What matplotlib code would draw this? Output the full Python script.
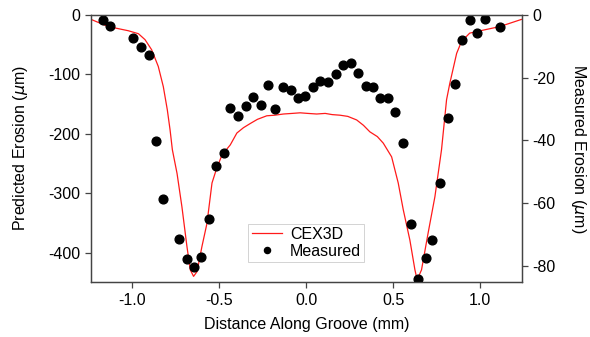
import numpy as np
import matplotlib
matplotlib.use('Agg')
import matplotlib.pyplot as plt

plt.rcParams['font.family'] = ['Liberation Sans', 'DejaVu Sans']
plt.rcParams['axes.unicode_minus'] = False

# CEX3D prediction (left axis, um)
model_x = [-1.236, -1.137, -1.022, -0.964, -0.926, -0.888, -0.850, -0.821,
           -0.798, -0.782, -0.769, -0.742, -0.714, -0.685, -0.666, -0.647,
           -0.627, -0.599, -0.570, -0.541, -0.517, -0.484, -0.436, -0.398,
           -0.360, -0.321, -0.280, -0.226, -0.180, -0.130, -0.080, -0.034,
           0.010, 0.061, 0.110, 0.150, 0.195, 0.240, 0.291, 0.330, 0.367,
           0.410, 0.444, 0.492, 0.530, 0.559, 0.597, 0.626, 0.639, 0.664,
           0.702, 0.741, 0.779, 0.808, 0.827, 0.866, 0.894, 0.941, 1.018,
           1.114, 1.238]
model_y = [-8, -20, -27, -32, -42, -59, -87, -121,
           -160, -194, -227, -267, -323, -390, -429, -440,
           -432, -390, -351, -283, -261, -236, -219, -199,
           -190, -183, -176, -170, -169, -167, -166, -165,
           -166, -167, -166, -168, -169, -171, -177, -186, -197,
           -205, -216, -239, -283, -328, -379, -429, -446, -429,
           -367, -306, -227, -143, -115, -65, -45, -31, -26,
           -20, -8]

# measured profile (right axis, um)
meas_x = [-1.167, -1.125, -0.993, -0.951, -0.905, -0.865, -0.825, -0.733,
          -0.687, -0.645, -0.607, -0.561, -0.520, -0.471, -0.436, -0.392,
          -0.346, -0.304, -0.258, -0.220, -0.178, -0.130, -0.089, -0.046,
          -0.006, 0.038, 0.080, 0.125, 0.170, 0.211, 0.257, 0.300, 0.343,
          0.386, 0.425, 0.471, 0.513, 0.555, 0.601, 0.641, 0.687, 0.727,
          0.773, 0.815, 0.855, 0.895, 0.941, 0.983, 1.027, 1.115]
meas_y = [-1.7, -3.5, -7.5, -10.2, -12.8, -40.3, -58.8, -71.4,
          -77.9, -80.3, -77.1, -65.1, -48.3, -44.0, -29.7, -32.4,
          -29.1, -26.1, -28.9, -22.5, -30.1, -23.1, -23.9, -26.6,
          -25.9, -23.1, -21.1, -21.4, -18.9, -16.0, -15.5, -18.7, -22.6,
          -23.1, -26.6, -26.6, -31.0, -40.8, -66.6, -84.3, -77.6, -71.8,
          -53.6, -32.8, -22.2, -8.0, -1.7, -5.7, -1.4, -4.0]

xticks = [-1.0, -0.5, 0.0, 0.5, 1.0]
left_ticks = [0, -100, -200, -300, -400]
right_ticks = [0, -20, -40, -60, -80]

fs = 11.5

fig = plt.figure(figsize=(5.9, 3.37), dpi=100)
ax = fig.add_axes([0.1542, 0.1623, 0.730, 0.7941])
ax2 = ax.twinx()

line, = ax.plot(model_x, model_y, color='#ff1a1a', lw=0.9, label='CEX3D')
pts, = ax2.plot(meas_x, meas_y, 'o', color='black', ms=6.3, label='Measured')

ax.set_xlim(-1.237, 1.24)
ax.set_ylim(-450, 0)
ax2.set_ylim(-85.2, 0)

ax.set_xticks(xticks)
ax.set_xticklabels(['%.1f' % t for t in xticks])
ax.set_yticks(left_ticks)
ax2.set_yticks(right_ticks)

spine_col = '#444444'
for a in (ax, ax2):
    for s in a.spines.values():
        s.set_color(spine_col)
        s.set_linewidth(0.9)
    a.tick_params(direction='out', length=4, width=0.9, color=spine_col,
                  labelsize=fs, labelcolor='black')

ax.set_xlabel('Distance Along Groove (mm)', fontsize=fs, labelpad=7)
ax.set_ylabel(r'Predicted Erosion ($\mu$m)', fontsize=fs, labelpad=13)
ax2.set_ylabel(r'Measured Erosion ($\mu$m)', fontsize=fs, rotation=270,
               va='bottom', labelpad=10)

# legend sits on the twin axes so it covers the dots
leg = ax2.legend([line, pts], ['CEX3D', 'Measured'], loc='lower center',
                 bbox_to_anchor=(0.5, 0.077), fontsize=fs, fancybox=False,
                 framealpha=1, edgecolor='#cccccc', handlelength=1.9,
                 borderpad=0.2, labelspacing=0.1, handletextpad=0.5,
                 borderaxespad=0, markerscale=0.7)
leg.get_frame().set_linewidth(0.6)

plt.savefig('out.png', dpi=100)
plt.close(fig)
